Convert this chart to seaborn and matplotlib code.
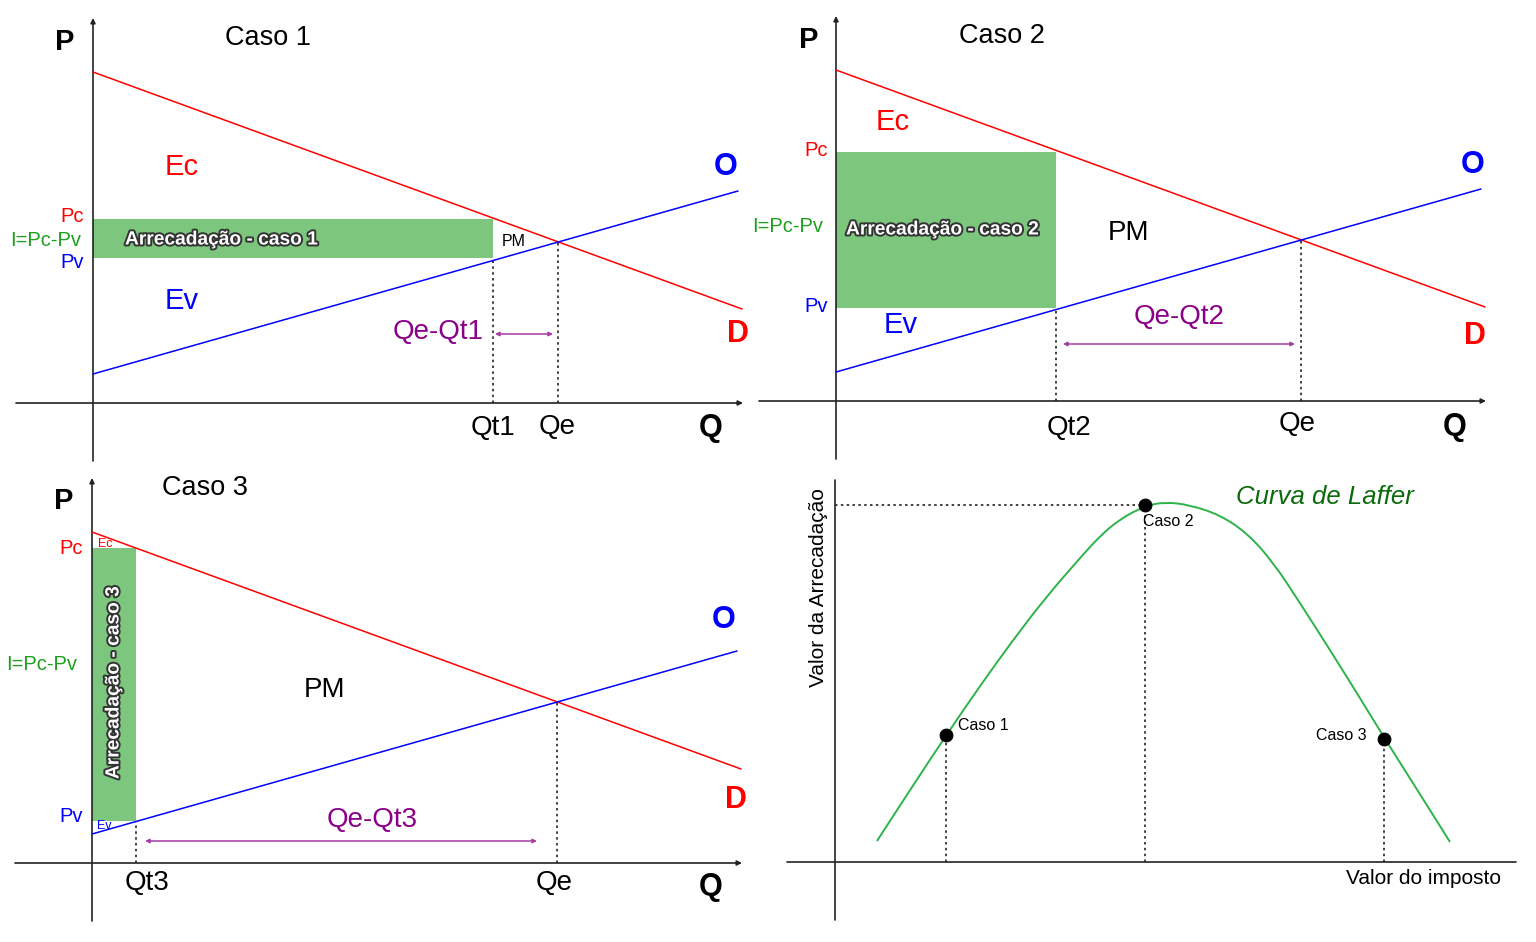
import matplotlib
matplotlib.use("Agg")
import matplotlib.pyplot as plt
import matplotlib.patheffects as pe
from matplotlib.path import Path
from matplotlib.patches import PathPatch
import seaborn as sns

sns.set_theme(style="white")
plt.rcParams["font.family"] = ["Liberation Sans", "DejaVu Sans"]

# ---------------- data ----------------
demand_q = [0, 649]
demand_p = [331, 94]
supply_q = [0, 645]
supply_p = [29, 212]
q_e = 465
p_e = 161

case_titles = ["Caso 1", "Caso 2", "Caso 3"]
q_t = [400, 220, 44]
p_c = [184, 249, 315]
p_v = [145, 93, 42]
qt_labels = ["Qt1", "Qt2", "Qt3"]
gap_labels = ["Qe-Qt1", "Qe-Qt2", "Qe-Qt3"]
revenue_labels = ["Arrecadação - caso 1", "Arrecadação - caso 2", "Arrecadação - caso 3"]

laffer_tax = [42, 77, 112, 145, 178, 212, 245, 265, 285, 310, 330,
              355, 385, 412, 438, 465, 495, 525, 550, 583, 615]
laffer_rev = [21, 75, 128, 176, 222, 266, 304, 326, 343, 356, 360,
              357, 347, 329, 300, 259, 212, 164, 123, 71, 20]
laffer_case_tax = [111, 310, 549]
laffer_case_rev = [127, 357, 123]
laffer_case_labels = ["Caso 1", "Caso 2", "Caso 3"]

# ---------------- colours ----------------
RED = "#ff0000"
BLUE = "#0000ff"
GREEN_FILL = "#7dc67d"
GREEN_TXT = "#1f9f1f"
PURPLE = "#8b008b"
PURPLE_ARROW = "#a63ca6"
AXIS = "#222222"
LAFFER = "#2db34a"

FIG_W, FIG_H = 1536, 942
fig = plt.figure(figsize=(FIG_W / 100, FIG_H / 100), dpi=100)
fig.patch.set_facecolor("white")

# panel boxes in pixels: left, top, right, bottom, origin x, origin y
panels = [(0, 0, 768, 470, 93, 403),
          (768, 0, 1536, 470, 836, 401),
          (0, 470, 768, 942, 92, 863),
          (768, 470, 1536, 942, 835, 862)]


def make_ax(l, t, r, b, ox, oy):
    ax = fig.add_axes([l / FIG_W, 1 - b / FIG_H, (r - l) / FIG_W, (b - t) / FIG_H])
    ax.set_xlim(l - ox, r - ox)
    ax.set_ylim(oy - b, oy - t)
    ax.axis("off")
    return ax


def axis_arrow(ax, x0, y0, x1, y1, head=True):
    ax.annotate("", xy=(x1, y1), xytext=(x0, y0),
                arrowprops=dict(arrowstyle="-|>" if head else "-", lw=1.2, color=AXIS,
                                mutation_scale=7, shrinkA=0, shrinkB=0))


LBL = 14.5
BIG = 20

layouts = [
    dict(P=(-28, 361), title=(175, 365), pc=(-9, 187), i=(-12, 163), pv=(-9, 140),
         ec=(89, 236), ev=(89, 102), ec_size=21, pm=(421, 162), pm_size=11.5,
         gap=(345, 71), arrow_y=69, arrow_x=(402, 460), O=(633, 236), D=(645, 69),
         qt=(400, -25), qe=(464, -24), Q=(618, -25), rev=(128, 163), rev_rot=0),
    dict(P=(-27, 361), title=(166, 365), pc=(-8, 250), i=(-13, 174), pv=(-8, 94),
         ec=(57, 279), ev=(65, 76), ec_size=21, pm=(292, 168), pm_size=BIG,
         gap=(343, 84), arrow_y=57, arrow_x=(227, 459), O=(637, 236), D=(639, 65),
         qt=(233, -27), qe=(461, -23), Q=(619, -26), rev=(106, 171), rev_rot=0),
    dict(P=(-28, 362), title=(113, 375), pc=(-9, 314), i=(-15, 198), pv=(-9, 47),
         ec=(13, 319), ev=(12, 37), ec_size=9, pm=(233, 173), pm_size=BIG,
         gap=(280, 43), arrow_y=22, arrow_x=(53, 445), O=(632, 243), D=(644, 63),
         qt=(55, -20), qe=(462, -20), Q=(619, -24), rev=(22, 180), rev_rot=90),
]

for k in range(3):
    L = layouts[k]
    ax = make_ax(*panels[k])
    axis_arrow(ax, 0, -58, 0, 385)
    axis_arrow(ax, -77, 0, 650, 0)
    ax.bar(0, p_c[k] - p_v[k], width=q_t[k], bottom=p_v[k], align="edge",
           color=GREEN_FILL, edgecolor="none", zorder=1)
    sns.lineplot(x=demand_q, y=demand_p, ax=ax, color=RED, lw=1.1,
                 estimator=None, sort=False, legend=False, zorder=3)
    sns.lineplot(x=supply_q, y=supply_p, ax=ax, color=BLUE, lw=1.1,
                 estimator=None, sort=False, legend=False, zorder=3)
    ax.plot([q_t[k], q_t[k]], [0, p_v[k]], ls=(0, (1.5, 2)), color=AXIS, lw=1.2, zorder=2)
    ax.plot([q_e, q_e], [0, p_e], ls=(0, (1.5, 2)), color=AXIS, lw=1.2, zorder=2)
    ax.annotate("", xy=(L["arrow_x"][1], L["arrow_y"]), xytext=(L["arrow_x"][0], L["arrow_y"]),
                arrowprops=dict(arrowstyle="<|-|>", lw=1.1, color=PURPLE_ARROW,
                                mutation_scale=6, shrinkA=0, shrinkB=0))
    ax.text(*L["P"], "P", fontsize=21, fontweight="bold", ha="center", va="center", color="black")
    ax.text(*L["title"], case_titles[k], fontsize=19.5, ha="center", va="center", color="black")
    ax.text(*L["pc"], "Pc", fontsize=LBL, ha="right", va="center", color=RED)
    ax.text(*L["i"], "I=Pc-Pv", fontsize=LBL, ha="right", va="center", color=GREEN_TXT)
    ax.text(*L["pv"], "Pv", fontsize=LBL, ha="right", va="center", color=BLUE)
    ax.text(*L["ec"], "Ec", fontsize=L["ec_size"], ha="center", va="center", color=RED)
    ax.text(*L["ev"], "Ev", fontsize=L["ec_size"], ha="center", va="center", color=BLUE)
    ax.text(*L["pm"], "PM", fontsize=L["pm_size"], ha="center", va="center", color="black")
    ax.text(*L["gap"], gap_labels[k], fontsize=BIG, ha="center", va="center", color=PURPLE)
    ax.text(*L["O"], "O", fontsize=22, fontweight="bold", ha="center", va="center", color=BLUE)
    ax.text(*L["D"], "D", fontsize=22, fontweight="bold", ha="center", va="center", color=RED)
    ax.text(*L["qt"], qt_labels[k], fontsize=BIG, ha="center", va="center", color="black")
    ax.text(*L["qe"], "Qe", fontsize=BIG, ha="center", va="center", color="black")
    ax.text(*L["Q"], "Q", fontsize=22, fontweight="bold", ha="center", va="center", color="black")
    ax.text(*L["rev"], revenue_labels[k], fontsize=13.8, fontweight="bold", ha="center",
            va="center", color="white", rotation=L["rev_rot"], zorder=5,
            path_effects=[pe.withStroke(linewidth=2.8, foreground="#333333")])

# ---------------- Laffer curve ----------------
ax = make_ax(*panels[3])
axis_arrow(ax, 0, -58, 0, 382, head=False)
axis_arrow(ax, -48, 0, 681, 0, head=False)

# smooth rendering of the read points (quadratic Bezier path through midpoints)
pts = list(zip(laffer_tax, laffer_rev))
verts = [pts[0]]
codes = [Path.MOVETO]
mid = lambda a, b: ((a[0] + b[0]) / 2, (a[1] + b[1]) / 2)
verts.append(mid(pts[0], pts[1]))
codes.append(Path.LINETO)
for j in range(1, len(pts) - 1):
    verts += [pts[j], mid(pts[j], pts[j + 1])]
    codes += [Path.CURVE3, Path.CURVE3]
verts.append(pts[-1])
codes.append(Path.LINETO)
ax.add_patch(PathPatch(Path(verts, codes), facecolor="none", edgecolor=LAFFER, lw=1.4, zorder=3))

peak_rev = laffer_case_rev[1]
ax.plot([0, laffer_case_tax[1]], [peak_rev, peak_rev], ls=(0, (1.5, 2)), color=AXIS, lw=1.2, zorder=2)
for tx, rv in zip(laffer_case_tax, laffer_case_rev):
    ax.plot([tx, tx], [0, rv], ls=(0, (1.5, 2)), color=AXIS, lw=1.2, zorder=2)
sns.scatterplot(x=laffer_case_tax, y=laffer_case_rev, ax=ax, color="black", s=85,
                edgecolor="black", legend=False, zorder=5)
ax.text(123, 136, laffer_case_labels[0], fontsize=11.5, ha="left", va="center", color="black")
ax.text(308, 340, laffer_case_labels[1], fontsize=11.5, ha="left", va="center", color="black")
ax.text(532, 127, laffer_case_labels[2], fontsize=11.5, ha="right", va="center", color="black")
ax.text(490, 365, "Curva de Laffer", fontsize=18.5, style="italic", ha="center", va="center",
        color="#0b6b0b")
ax.text(-17, 274, "Valor da Arrecadação", fontsize=15, rotation=90, ha="center",
        va="center", color="black")
ax.text(589, -17, "Valor do imposto", fontsize=15, ha="center", va="center", color="black")

fig.savefig("out.png", dpi=100, facecolor="white")
